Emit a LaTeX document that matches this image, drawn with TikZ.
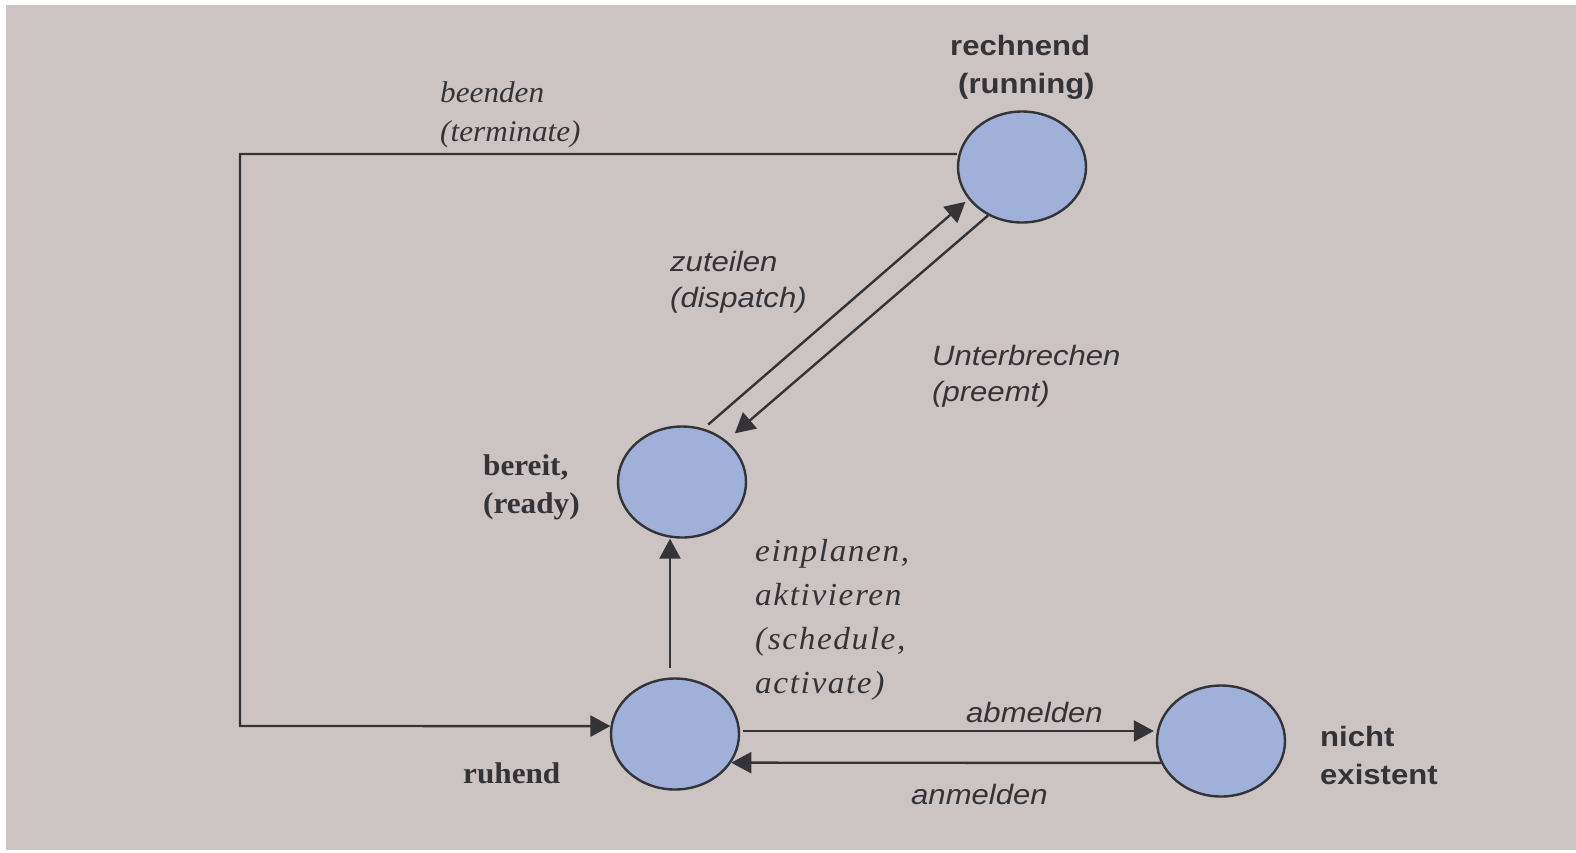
\documentclass[tikz,border=0pt]{standalone}
\usepackage{fontspec}
\setmainfont{Liberation Serif}[FakeStretch=1.04]
\setsansfont{Liberation Sans}[FakeStretch=1.11]
\usetikzlibrary{shapes.geometric,arrows.meta}
\definecolor{bg}{RGB}{204,196,194}
\definecolor{ell}{RGB}{159,177,217}
\definecolor{ink}{RGB}{51,51,56}
\begin{document}
\begin{tikzpicture}[x=1pt,y=-1pt,
  state/.style={ellipse,draw=ink,fill=ell,line width=2.4pt,minimum width=128pt,minimum height=111pt,inner sep=0pt},
  conn/.style={draw=ink,line width=2.4pt},
  arr/.style={conn,-{Triangle[length=20pt,width=21pt]}},
  lbl/.style={inner sep=0pt,anchor=base west,align=left,text=ink},
  sansb/.style={lbl,font=\sffamily\bfseries\fontsize{28}{38}\selectfont},
  sansi/.style={lbl,font=\sffamily\itshape\fontsize{28}{36}\selectfont},
  serb/.style={lbl,font=\rmfamily\bfseries\fontsize{30}{38}\selectfont},
  seri/.style={lbl,font=\rmfamily\itshape\fontsize{30}{39.5}\selectfont},
  serw/.style={lbl,font=\rmfamily\itshape\addfontfeatures{LetterSpace=5}\fontsize{32}{44}\selectfont}
]
\useasboundingbox (0,0) rectangle (1576,852);
\fill[white] (0,0) rectangle (1576,852);
\fill[bg] (6,5) rectangle (1576,850);

% states
\node[state] (run) at (1022,167) {};
\node[state] (rdy) at (682,482) {};
\node[state] (ruh) at (675,734) {};
\node[state] (nic) at (1221,741) {};
\coordinate (bend) at (240,726);

% labels (anchor = baseline of last line)
\node[sansb] (lrun) at (950,93) {rechnend\\\hspace*{8pt}(running)};
\node[serb] (lrdy) at (483,513) {bereit,\\(ready)};
\node[serb] (lruh) at (463,783) {ruhend};
\node[sansb] (lnic) at (1320,784) {nicht\\existent};
\node[seri] (lterm) at (440,141.5) {beenden\\(terminate)};
\node[sansi] (ldisp) at (670,307) {zuteilen\\(dispatch)};
\node[sansi] (lpre) at (932,401) {Unterbrechen\\(preemt)};
\node[serw] (lsched) at (755,693) {einplanen,\\aktivieren\\(schedule,\\activate)};
\node[sansi] (lab) at (966,722) {abmelden};
\node[sansi] (lan) at (911,804) {anmelden};

% connectors
\draw[arr] ([yshift=13pt]run.west) -| (bend) -- (ruh.173);
\draw[arr, shorten <=6pt, shorten >=4pt] (rdy.68) -- (run.211.5);
\draw[arr, shorten >=11pt] (run.235) -- (rdy.43);
\draw[arr] ([xshift=-5pt,yshift=9pt]ruh.north) -- ([xshift=-12pt]rdy.south);
\draw[arr] ([xshift=3pt,yshift=3pt]ruh.east) -- ([xshift=-2pt,yshift=10pt]nic.west);
\draw[arr] (nic.200.2) -- (ruh.-27.4);
\end{tikzpicture}
\end{document}
